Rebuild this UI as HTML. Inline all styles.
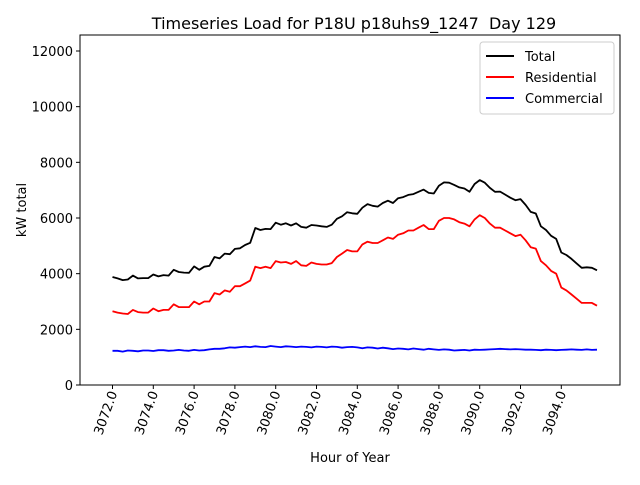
<!DOCTYPE html>
<html><head><meta charset="utf-8"><style>
body{margin:0;background:#fff;}
svg text{font-family:"DejaVu Sans","Liberation Sans",sans-serif;}
</style></head><body>
<svg id="chart" width="640" height="480" viewBox="0 0 640 480" xmlns="http://www.w3.org/2000/svg">
<rect width="640" height="480" fill="#fff"/>
<text x="354" y="29" font-size="16" text-anchor="middle" style="white-space:pre" xml:space="preserve">Timeseries Load for P18U p18uhs9_1247  Day 129</text>
<g id="grid"></g>
<g id="series"></g>
<rect x="80" y="35" width="540" height="350" fill="none" stroke="#000" stroke-width="1"/>
<g id="yticks"></g>
<g id="xticks"></g>
<text x="350" y="462" font-size="13" text-anchor="middle">Hour of Year</text>
<text transform="translate(26,210) rotate(-90)" font-size="13" text-anchor="middle">kW total</text>
<g>
<rect x="480" y="42" width="134" height="72" fill="#fff" stroke="#ccc" rx="3"/>
<line x1="486" y1="56" x2="514" y2="56" stroke="#000" stroke-width="2"/>
<text x="525" y="61" font-size="13">Total</text>
<line x1="486" y1="77" x2="514" y2="77" stroke="#f00" stroke-width="2"/>
<text x="525" y="82" font-size="13">Residential</text>
<line x1="486" y1="98" x2="514" y2="98" stroke="#00f" stroke-width="2"/>
<text x="525" y="103" font-size="13">Commercial</text>
</g>
</svg>
<script>
const xTickLabels = ["3072.0","3074.0","3076.0","3078.0","3080.0","3082.0","3084.0","3086.0","3088.0","3090.0","3092.0","3094.0"];
const xTickValues = [3072,3074,3076,3078,3080,3082,3084,3086,3088,3090,3092,3094];
const yTickValues = [0,2000,4000,6000,8000,10000,12000];
const startHour = 3072;
const stepHours = 0.25;
const totalLoad = [3880,3830,3770,3790,3930,3830,3840,3840,3970,3900,3950,3930,4140,4060,4040,4030,4260,4140,4250,4280,4600,4550,4720,4700,4890,4910,5030,5110,5640,5570,5610,5600,5830,5760,5810,5730,5810,5680,5650,5750,5730,5700,5680,5760,5970,6060,6210,6170,6150,6370,6500,6440,6410,6540,6620,6540,6710,6750,6830,6860,6940,7020,6900,6880,7160,7280,7270,7190,7100,7060,6940,7220,7360,7270,7080,6940,6950,6840,6730,6640,6680,6470,6220,6160,5700,5570,5360,5250,4760,4670,4530,4370,4210,4230,4210,4120];
const residentialLoad = [2650,2600,2570,2550,2700,2620,2600,2600,2750,2650,2700,2700,2900,2800,2800,2800,3000,2900,3000,3000,3300,3250,3400,3350,3550,3550,3650,3750,4250,4200,4250,4200,4450,4400,4420,4350,4450,4300,4280,4400,4350,4330,4330,4380,4600,4720,4850,4800,4800,5050,5150,5100,5100,5200,5300,5250,5400,5450,5550,5550,5650,5750,5600,5600,5900,6000,6000,5950,5850,5800,5700,5950,6100,6000,5800,5650,5650,5550,5450,5350,5400,5200,4950,4900,4450,4300,4100,4000,3500,3400,3250,3100,2950,2950,2950,2850];
const commercialLoad = [1230,1230,1200,1240,1230,1210,1240,1240,1220,1250,1250,1230,1240,1260,1240,1230,1260,1240,1250,1280,1300,1300,1320,1350,1340,1360,1380,1360,1390,1370,1360,1400,1380,1360,1390,1380,1360,1380,1370,1350,1380,1370,1350,1380,1370,1340,1360,1370,1350,1320,1350,1340,1310,1340,1320,1290,1310,1300,1280,1310,1290,1270,1300,1280,1260,1280,1270,1240,1250,1260,1240,1270,1260,1270,1280,1290,1300,1290,1280,1290,1280,1270,1270,1260,1250,1270,1260,1250,1260,1270,1280,1270,1260,1280,1260,1270];

const NS = "http://www.w3.org/2000/svg";
const xScale = h => 112.5 + (h - 3072) * 20.4;
const yScale = v => 385 - v * (334 / 12000);

const yt = document.getElementById('yticks');
yTickValues.forEach(v => {
  const y = yScale(v);
  const l = document.createElementNS(NS, 'line');
  l.setAttribute('x1', 76); l.setAttribute('x2', 80);
  l.setAttribute('y1', y); l.setAttribute('y2', y);
  l.setAttribute('stroke', '#000');
  
  
  yt.appendChild(l);
  const t = document.createElementNS(NS, 'text');
  t.setAttribute('x', 73); t.setAttribute('y', y + 5);
  t.setAttribute('font-size', '13'); t.setAttribute('text-anchor', 'end');
  t.textContent = v;
  
  
  yt.appendChild(t);
});

const xt = document.getElementById('xticks');
xTickValues.forEach((h, i) => {
  const x = xScale(h);
  const l = document.createElementNS(NS, 'line');
  l.setAttribute('x1', x); l.setAttribute('x2', x);
  l.setAttribute('y1', 385); l.setAttribute('y2', 389);
  l.setAttribute('stroke', '#000');
  
  
  xt.appendChild(l);
  const t = document.createElementNS(NS, 'text');
  t.setAttribute('transform', 'translate(' + (x + 5) + ',393) rotate(-70)');
  t.setAttribute('font-size', '13'); t.setAttribute('text-anchor', 'end');
  t.textContent = xTickLabels[i];
  
  
  xt.appendChild(t);
});

const sg = document.getElementById('series');
function drawLine(vals, color, name) {
  const pts = vals.map((v, i) => xScale(startHour + i * stepHours).toFixed(1) + ',' + yScale(v).toFixed(1)).join(' ');
  const p = document.createElementNS(NS, 'polyline');
  p.setAttribute('points', pts);
  p.setAttribute('fill', 'none');
  p.setAttribute('stroke', color);
  p.setAttribute('stroke-width', '1.8');
  p.setAttribute('stroke-linejoin', 'round');
  
  
  sg.appendChild(p);
}
drawLine(totalLoad, '#000', 'total-line');
drawLine(residentialLoad, '#f00', 'residential-line');
drawLine(commercialLoad, '#00f', 'commercial-line');
</script>
</body></html>
